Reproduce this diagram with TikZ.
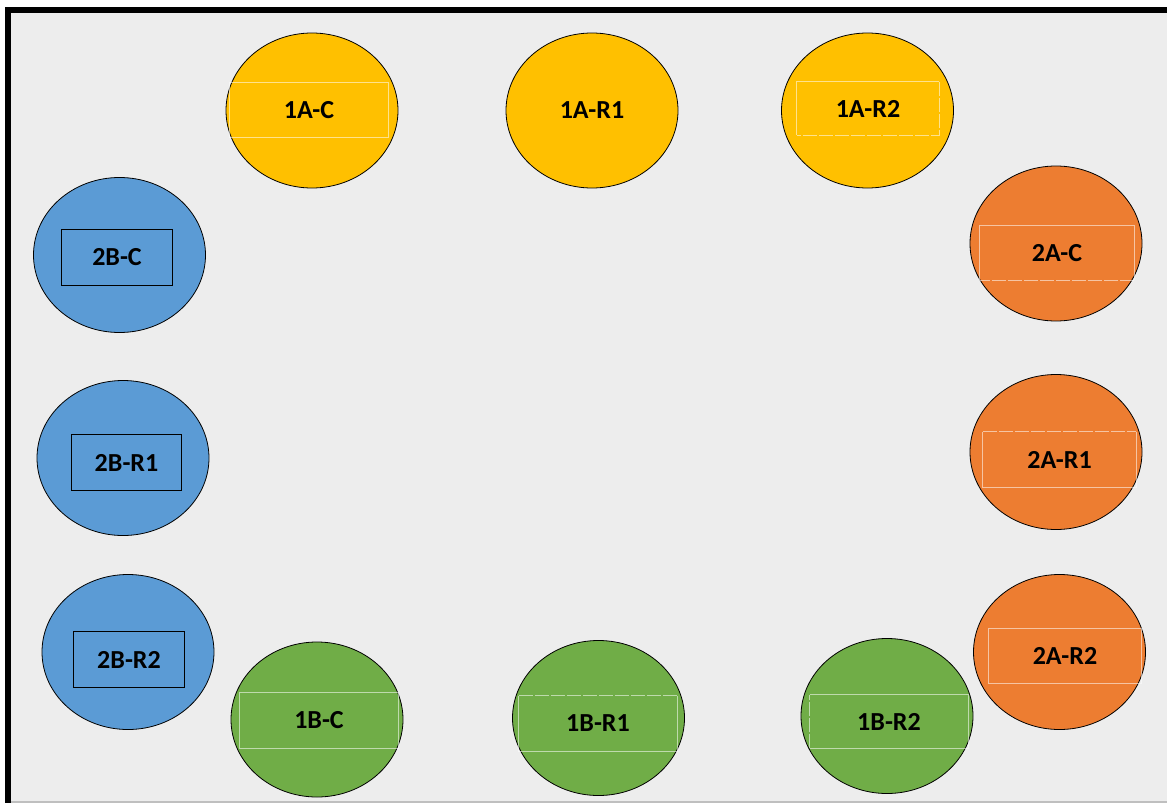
\documentclass[tikz,border=0pt]{standalone}
\usepackage{fontspec}
\setmainfont{Carlito}
\usetikzlibrary{shapes.geometric}
\definecolor{bg}{HTML}{EDEDED}
\definecolor{cyel}{HTML}{FFC000}
\definecolor{cblu}{HTML}{5B9BD5}
\definecolor{cora}{HTML}{ED7D31}
\definecolor{cgrn}{HTML}{70AD47}
\begin{document}
\begin{tikzpicture}[x=1pt,y=-1pt,
  seat/.style={ellipse, draw=black, line width=0.8pt, minimum width=172pt, minimum height=155pt, inner sep=0pt},
  lbl/.style={font=\bfseries\fontsize{26}{30}\selectfont, text=black, inner sep=0pt},
  tbox/.style={rectangle, inner sep=0pt, font=\bfseries\fontsize{26}{30}\selectfont, text=black},
  wline/.style={draw=white, draw opacity=0.55, line width=0.7pt},
  wdash/.style={wline, dash pattern=on 14pt off 2pt},
  bline/.style={draw=black, line width=1pt}]
\useasboundingbox (0,0) rectangle (1167,803);
\fill[white] (0,0) rectangle (1167,803);
\fill[bg] (11,13) rectangle (1167,801);
\fill[black] (5,7) rectangle (1167,13);
\fill[black] (5,7) rectangle (11,803);
\fill[black!25] (11,801) rectangle (1167,803);

% top row (yellow)
\node[seat, fill=cyel] (e1ac) at (312,110.5) {};
\node[seat, fill=cyel] (e1ar1) at (592,110.5) {};
\node[seat, fill=cyel] (e1ar2) at (867.5,110.5) {};
% left column (blue)
\node[seat, fill=cblu] (e2bc) at (119.5,255) {};
\node[seat, fill=cblu] (e2br1) at (123,458) {};
\node[seat, fill=cblu] (e2br2) at (128,652) {};
% right column (orange)
\node[seat, fill=cora] (e2ac) at (1056,243.5) {};
\node[seat, fill=cora] (e2ar1) at (1056,452) {};
\node[seat, fill=cora] (e2ar2) at (1059.5,652) {};
% bottom row (green)
\node[seat, fill=cgrn] (e1bc) at (317,719.5) {};
\node[seat, fill=cgrn] (e1br1) at (598.5,718) {};
\node[seat, fill=cgrn] (e1br2) at (887,716) {};

% text boxes
\node[tbox, minimum width=158pt, minimum height=54pt] (b1ac) at (309,110) {1A-C};
\draw[wline] (b1ac.north west) rectangle (b1ac.south east);

\node[lbl] (t1ar1) at (e1ar1.center) {1A-R1};

\node[tbox, minimum width=142pt, minimum height=53pt] (b1ar2) at (868,108.5) {1A-R2};
\draw[wline] (b1ar2.south west) -- (b1ar2.north west) -- (b1ar2.north east);
\draw[wdash] (b1ar2.north east) -- (b1ar2.south east) -- (b1ar2.south west);

\node[tbox, minimum width=110pt, minimum height=55pt] (b2bc) at (117,257.5) {2B-C};
\draw[bline] (b2bc.north west) rectangle (b2bc.south east);
\node[tbox, minimum width=109pt, minimum height=55pt] (b2br1) at (126.5,462.5) {2B-R1};
\draw[bline] (b2br1.north west) rectangle (b2br1.south east);
\node[tbox, minimum width=110pt, minimum height=55pt] (b2br2) at (129,659.5) {2B-R2};
\draw[bline] (b2br2.north west) rectangle (b2br2.south east);

\node[tbox, minimum width=154pt, minimum height=54pt] (b2ac) at (1057,253) {2A-C};
\draw[wline] (b2ac.south west) -- (b2ac.north west) -- (b2ac.north east) -- (b2ac.south east);
\draw[wdash] (b2ac.south east) -- (b2ac.south west);

\node[tbox, minimum width=153pt, minimum height=55pt] (b2ar1) at (1059.5,459.5) {2A-R1};
\draw[wline] (b2ar1.north east) -- (b2ar1.south east) -- (b2ar1.south west) -- (b2ar1.north west);
\draw[wdash] (b2ar1.north west) -- (b2ar1.north east);

\node[tbox, minimum width=152pt, minimum height=54pt] (b2ar2) at (1065,656) {2A-R2};
\draw[wline] (b2ar2.north west) rectangle (b2ar2.south east);

\node[tbox, minimum width=158pt, minimum height=55pt] (b1bc) at (319,720.5) {1B-C};
\draw[wline] (b1bc.north west) rectangle (b1bc.south east);

\node[tbox, minimum width=158pt, minimum height=55pt] (b1br1) at (598,723.5) {1B-R1};
\draw[wline] (b1br1.north east) -- (b1br1.south east) -- (b1br1.south west) -- (b1br1.north west);
\draw[wdash] (b1br1.north west) -- (b1br1.north east);

\node[tbox, minimum width=158pt, minimum height=53pt] (b1br2) at (889,721.5) {1B-R2};
\draw[wline] (b1br2.north west) -- (b1br2.north east) -- (b1br2.south east) -- (b1br2.south west);
\draw[wdash] (b1br2.south west) -- (b1br2.north west);
\end{tikzpicture}
\end{document}
